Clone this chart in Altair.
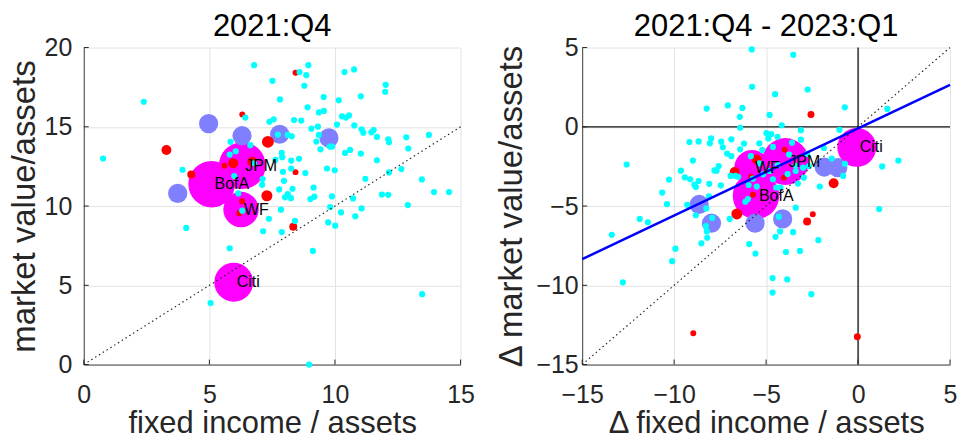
import altair as alt
import pandas as pd

FONT = "Liberation Sans"

# ---------------- Left panel: 2021:Q4 levels ----------------
L_CYAN_X = [6.78, 8.94, 8.59, 8.86, 7.51, 8.78, 10.38, 10.76, 2.39, 7.81, 9.55, 10.15, 11.03, 12.02, 12.00,
            8.91, 6.43, 7.39, 7.56, 8.37, 8.66, 9.36, 9.56, 10.28, 10.44, 10.56, 10.08, 10.77, 11.06, 11.13,
            11.45, 11.54, 11.67, 9.06, 9.32, 9.36, 9.26, 7.73, 8.12, 8.28, 5.84, 6.63, 9.42, 9.79, 9.89,
            10.40, 10.60, 11.03, 12.12, 12.15, 12.84, 12.92, 13.74, 0.77, 3.93, 5.81, 6.05, 7.88, 7.90, 7.63,
            8.26, 8.57, 8.26, 7.93, 8.82, 9.68, 9.99, 11.67, 12.15, 12.64, 11.21, 13.46, 13.94, 14.54, 11.87,
            12.12, 12.90, 5.99, 7.12, 7.10, 7.97, 7.78, 8.31, 9.15, 8.01, 8.12, 8.25, 9.02, 9.18, 9.88,
            10.72, 11.06, 9.81, 10.24, 10.81, 7.85, 7.37, 8.41, 9.73, 10.01, 7.14, 7.88, 4.08, 5.81, 9.12,
            13.47, 5.05, 8.97, 6.15, 6.31, 6.78]
L_CYAN_Y = [18.89, 18.89, 18.45, 18.26, 17.90, 17.59, 18.45, 18.62, 16.58, 16.73, 16.88, 16.67, 16.92, 17.65, 17.21,
            16.23, 15.58, 15.32, 15.47, 15.43, 15.39, 15.91, 16.00, 15.66, 15.58, 15.72, 15.14, 15.09, 14.84, 14.63,
            14.65, 14.80, 14.36, 14.88, 15.01, 14.49, 14.07, 14.51, 14.49, 14.40, 14.05, 13.84, 13.58, 13.75, 13.75,
            13.35, 13.54, 13.31, 14.21, 14.03, 14.34, 13.63, 14.49, 13.00, 12.29, 13.25, 13.46, 13.35, 13.08, 12.91,
            12.87, 12.98, 12.37, 12.16, 12.08, 12.37, 12.26, 12.89, 12.12, 12.33, 11.72, 11.68, 10.88, 10.88, 10.73,
            10.71, 10.06, 11.89, 11.70, 11.34, 11.59, 11.05, 11.09, 11.17, 10.55, 10.75, 10.50, 10.44, 10.59, 10.61,
            10.48, 9.85, 9.94, 9.60, 9.35, 9.77, 9.20, 9.06, 8.97, 8.76, 8.41, 8.36, 8.62, 7.34, 7.17,
            4.44, 3.88, 0.00, 10.80, 9.71, 12.70]

L_RED_X = [8.43, 6.31, 3.29, 7.33, 4.28, 5.60, 5.95, 6.71, 8.43, 7.29, 6.30, 6.19, 8.34]
L_RED_Y = [18.41, 15.77, 13.54, 14.05, 11.99, 12.54, 12.70, 12.79, 12.14, 10.65, 10.31, 9.54, 8.70]
L_RED_ASSETS = [0.056, 0.056, 0.156, 0.225, 0.10, 0.056, 0.156, 0.156, 0.056, 0.19, 0.056, 0.056, 0.10]

L_LAV_X = [4.97, 6.30, 7.80, 9.76, 3.74]
L_LAV_Y = [15.20, 14.44, 14.53, 14.30, 10.80]

BANKS = ["JPM", "BofA", "WF", "Citi"]
BANK_ASSETS = [3.45, 3.40, 1.97, 2.38]
L_BANK_X = [6.31, 5.09, 6.26, 5.97]
L_BANK_Y = [12.55, 11.38, 9.78, 5.19]

# ---------------- Right panel: change 2021:Q4 - 2023:Q1 ----------------
R_CYAN_X = [-5.78, -3.52, -5.76, -4.51, -2.74, -8.23, -7.08, -6.29, -6.43, -4.81, -0.72, 1.59, -6.41, -4.15, -4.98,
            -4.88, -3.11, -1.01, -9.17, -8.67, -7.99, -8.06, -7.44, -7.35, -6.89, -7.12, -6.89, -6.41, -6.20, -5.37,
            -5.21, -4.63, -4.38, -3.59, -3.11, -2.77, -1.86, -1.43, -0.71, -8.98, -9.63, -9.42, -9.13, -8.67, -8.90,
            -8.82, -10.28, -10.65, -12.58, -10.39, -9.29, -8.82, -8.25, -8.09, -7.81, -7.58, -7.69, -7.46, -8.11, -8.27,
            -8.22, -8.20, -8.52, -7.93, -6.98, -6.93, -6.66, -11.87, -11.43, -13.39, -10.11, -9.93, -12.79, -5.92, -5.58,
            -4.49, -4.24, -3.53, -3.92, -3.16, -2.16, -4.65, -3.85, -4.65, -2.54, -3.39, -4.31, -2.08, -0.81, 1.31,
            2.19, 1.15, -5.99, -6.13, -5.95, -5.51, -5.83, -5.37, -5.16, -4.81, -4.63, -4.45, -4.22, -3.83, -3.39,
            -3.27, -2.95, -3.75, -3.39, -4.36, -2.99, -2.67, -4.72, -5.72, -6.52]
R_CYAN_Y = [4.88, 4.54, 2.52, 2.06, 2.35, 1.15, 1.35, 1.19, 0.63, 0.75, 1.23, 1.13, -0.06, 0.10, -0.40,
            -0.73, -0.21, -0.19, -0.96, -0.92, -0.73, -1.04, -0.94, -1.29, -0.79, -1.69, -1.85, -1.42, -1.06, -1.04,
            -1.46, -1.27, -0.63, -1.00, -0.81, -1.71, -1.33, -2.00, -2.33, -2.13, -2.77, -3.19, -3.31, -3.42, -3.65,
            -3.79, -3.33, -4.15, -2.38, -4.88, -4.92, -5.58, -5.15, -3.60, -2.75, -2.48, -2.77, -3.69, -4.38, -6.27,
            -6.60, -7.00, -7.35, -5.75, -5.81, -3.10, -3.10, -5.81, -6.02, -6.81, -8.48, -7.69, -9.81, -7.40, -8.00,
            -6.94, -6.60, -6.65, -7.90, -7.83, -7.15, -9.54, -9.63, -10.46, -10.56, -5.10, -5.67, -3.77, -3.10, -2.50,
            -2.13, -5.19, -4.56, -4.73, -3.67, -3.77, -1.85, -2.31, -3.00, -2.79, -3.31, -3.83, -3.83, -2.98, -2.79,
            -3.58, -3.21, -1.75, -2.44, -2.42, -2.58, -2.48, -0.46, -3.27, -3.15]

R_RED_X = [-2.56, -5.51, -6.71, -5.81, -3.99, -4.03, -5.71, -6.59, -1.33, -2.46, -2.77, -8.96, -0.04]
R_RED_Y = [0.77, -2.06, -2.85, -3.15, -1.44, -3.21, -4.29, -5.50, -3.56, -5.52, -5.98, -13.02, -13.25]
R_RED_ASSETS = [0.077, 0.156, 0.156, 0.056, 0.056, 0.056, 0.056, 0.19, 0.156, 0.056, 0.10, 0.056, 0.077]

R_LAV_X = [-8.64, -7.97, -5.60, -4.10, -1.84, -1.10]
R_LAV_Y = [-4.90, -6.08, -6.08, -5.81, -2.54, -2.58]

R_BANK_X = [-3.95, -5.55, -5.77, -0.07]
R_BANK_Y = [-2.19, -4.35, -2.58, -1.30]

CYAN_ASSETS = 0.06
LAV_ASSETS = 0.58

# fitted line in the change panel
FIT_SLOPE = 0.55
FIT_INTERCEPT = -0.1

L_DOMAIN_X, L_DOMAIN_Y = [0, 15], [0, 20]
R_DOMAIN_X, R_DOMAIN_Y = [-15, 5], [-15, 5]
L_TICKS_X, L_TICKS_Y = [0, 5, 10, 15], [0, 5, 10, 15, 20]
R_TICKS_X, R_TICKS_Y = [-15, -10, -5, 0, 5], [-15, -10, -5, 0, 5]

GROUPS = ["big", "mid", "small", "other"]
GROUP_COLORS = ["#FF00FF", "#8080FF", "#FF0000", "#00FFFF"]

H = 318


def build(cx, cy, rx, ry, ra, lx, ly, bx, by, dom_x, dom_y, ticks_x, ticks_y,
          title, xtitle, ytitle, ylabpad, ytitlepad, change, W):
    rows = []
    for x, y in zip(cx, cy):
        rows.append(dict(x=x, y=y, group="other", assets=CYAN_ASSETS, label=""))
    for x, y, a in zip(rx, ry, ra):
        rows.append(dict(x=x, y=y, group="small", assets=a, label=""))
    for x, y in zip(lx, ly):
        rows.append(dict(x=x, y=y, group="mid", assets=LAV_ASSETS, label=""))
    for x, y, a, n in zip(bx, by, BANK_ASSETS, BANKS):
        rows.append(dict(x=x, y=y, group="big", assets=a, label=n))
    df = pd.DataFrame(rows)

    X = alt.X("x:Q", scale=alt.Scale(domain=dom_x, nice=False, zero=False),
              axis=alt.Axis(values=ticks_x, title=xtitle, grid=True, labelFlush=False,
                            labelPadding=18, titlePadding=1, ticks=False, tickSize=0,
                            titleFontSize=31, format="d"))
    Y = alt.Y("y:Q", scale=alt.Scale(domain=dom_y, nice=False, zero=False),
              axis=alt.Axis(values=ticks_y, title=ytitle, grid=True, labelFlush=False,
                            labelPadding=ylabpad, titlePadding=ytitlepad, ticks=False, tickSize=0,
                            titleFontSize=33, format="d"))
    size = alt.Size("assets:Q", scale=alt.Scale(type="linear", domain=[0, 1], range=[0, 640]), legend=None)
    color = alt.Color("group:N", scale=alt.Scale(domain=GROUPS, range=GROUP_COLORS), legend=None)

    base = alt.Chart(df)
    layers = []
    if change:
        layers.append(alt.Chart(pd.DataFrame({"x": [0]})).mark_rule(color="#111111", strokeWidth=1.3)
                      .encode(x=X))
        layers.append(alt.Chart(pd.DataFrame({"y": [0]})).mark_rule(color="#111111", strokeWidth=1.3)
                      .encode(y=Y))
    for g in GROUPS:
        layers.append(base.transform_filter(alt.datum.group == g).mark_circle(opacity=1, strokeWidth=0)
                      .encode(x=X, y=Y, size=size, color=color))
    diag = pd.DataFrame({"x": dom_x, "y": dom_x})
    layers.append(alt.Chart(diag).mark_line(color="#1a1a1a", strokeWidth=1.1, strokeDash=[1.5, 3])
                  .encode(x=X, y=Y))
    if change:
        fit = pd.DataFrame({"x": dom_x})
        fit["y"] = FIT_SLOPE * fit["x"] + FIT_INTERCEPT
        layers.append(alt.Chart(fit).mark_line(color="#0000FF", strokeWidth=2.5).encode(x=X, y=Y))
    # inward tick marks
    tx = pd.DataFrame({"x": ticks_x})
    ty = pd.DataFrame({"y": ticks_y})
    layers.append(alt.Chart(tx).mark_rule(color="#262626", strokeWidth=1).encode(x=X, y=alt.value(H), y2=alt.value(H - 5)))
    layers.append(alt.Chart(ty).mark_rule(color="#262626", strokeWidth=1).encode(y=Y, x=alt.value(0), x2=alt.value(5)))
    layers.append(base.transform_filter(alt.datum.group == "big")
                  .mark_text(align="left", baseline="middle", dx=3, fontSize=16, font=FONT, color="#000000")
                  .encode(x=X, y=Y, text="label:N"))
    # panel title
    layers.append(alt.Chart(pd.DataFrame({"t": [title]}))
                  .mark_text(align="center", baseline="alphabetic", fontSize=31, font=FONT, color="#000000")
                  .encode(x=alt.value(W / 2), y=alt.value(-12), text="t:N"))
    return alt.layer(*layers).properties(width=W, height=H)


left = build(L_CYAN_X, L_CYAN_Y, L_RED_X, L_RED_Y, L_RED_ASSETS, L_LAV_X, L_LAV_Y, L_BANK_X, L_BANK_Y,
             L_DOMAIN_X, L_DOMAIN_Y, L_TICKS_X, L_TICKS_Y,
             "2021:Q4", "fixed income / assets", "market value/assets", 12, 3, False, 378)
right = build(R_CYAN_X, R_CYAN_Y, R_RED_X, R_RED_Y, R_RED_ASSETS, R_LAV_X, R_LAV_Y, R_BANK_X, R_BANK_Y,
              R_DOMAIN_X, R_DOMAIN_Y, R_TICKS_X, R_TICKS_Y,
              "2021:Q4 - 2023:Q1", "Δ fixed income / assets", "Δ market value/assets", 4, 7, True, 369)

chart = alt.hconcat(left, right, spacing=21).properties(
    padding={"left": 0, "top": 2, "right": 0, "bottom": 0}
).configure(font=FONT).configure_view(stroke=None).configure_axis(
    labelFont=FONT, titleFont=FONT, labelFontSize=25, labelColor="#262626", titleColor="#262626",
    titleFontWeight="normal", domainColor="#404040", domainWidth=1,
    gridColor="#e3e3e3", gridWidth=1
)

chart.save("out.html", embed_options={"renderer": "svg", "actions": False})
